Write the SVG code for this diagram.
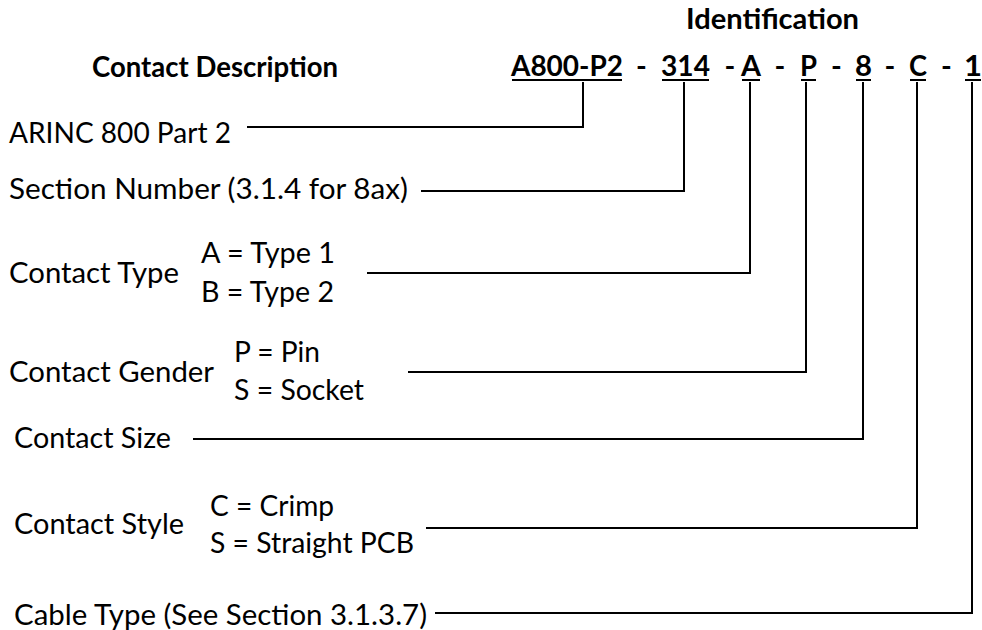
<svg xmlns="http://www.w3.org/2000/svg" width="982" height="630" viewBox="0 0 982 630">
<style>
.t{font-family:Lato,'Liberation Sans',sans-serif;font-size:29px;fill:#000}
.b{font-weight:bold}
.ln{fill:none;stroke:#000;stroke-width:2}
</style>
<rect width="982" height="630" fill="#fff"/>
<g id="hdr-ident"><text class="t b" x="686" y="29" textLength="173" lengthAdjust="spacingAndGlyphs">Identification</text></g>
<g id="hdr-desc"><text class="t b" x="92" y="77" textLength="246" lengthAdjust="spacingAndGlyphs">Contact Description</text></g>
<g id="code">
<g id="c-a800"><text class="t b" x="511" y="76" textLength="112" lengthAdjust="spacingAndGlyphs">A800-P2</text><line class="ln" x1="512" y1="80" x2="622" y2="80"/></g>
<text class="t b" x="641.5" y="76" text-anchor="middle">-</text>
<g id="c-314"><text class="t b" x="661" y="76" textLength="49" lengthAdjust="spacingAndGlyphs">314</text><line class="ln" x1="662" y1="80" x2="709" y2="80"/></g>
<text class="t b" x="730" y="76" text-anchor="middle">-</text>
<g id="c-a"><text class="t b" x="741" y="76" textLength="20" lengthAdjust="spacingAndGlyphs">A</text><line class="ln" x1="742" y1="80" x2="760" y2="80"/></g>
<text class="t b" x="780" y="76" text-anchor="middle">-</text>
<g id="c-p"><text class="t b" x="800" y="76" textLength="17" lengthAdjust="spacingAndGlyphs">P</text><line class="ln" x1="801" y1="80" x2="816" y2="80"/></g>
<text class="t b" x="836.5" y="76" text-anchor="middle">-</text>
<g id="c-8"><text class="t b" x="855" y="76" textLength="17" lengthAdjust="spacingAndGlyphs">8</text><line class="ln" x1="856" y1="80" x2="871" y2="80"/></g>
<text class="t b" x="890" y="76" text-anchor="middle">-</text>
<g id="c-c"><text class="t b" x="909" y="76" textLength="18" lengthAdjust="spacingAndGlyphs">C</text><line class="ln" x1="910" y1="80" x2="926" y2="80"/></g>
<text class="t b" x="946.5" y="76" text-anchor="middle">-</text>
<g id="c-1"><text class="t b" x="964" y="76" textLength="18" lengthAdjust="spacingAndGlyphs">1</text><line class="ln" x1="965" y1="80" x2="981" y2="80"/></g>
</g>
<g id="n-arinc"><text class="t" x="9" y="143" textLength="222" lengthAdjust="spacingAndGlyphs">ARINC 800 Part 2</text></g>
<g id="n-section"><text class="t" x="9" y="199" textLength="399" lengthAdjust="spacingAndGlyphs">Section Number (3.1.4 for 8ax)</text></g>
<g id="n-type">
<text class="t" x="9" y="283" textLength="170" lengthAdjust="spacingAndGlyphs">Contact Type</text>
<text class="t" x="201" y="263" textLength="134" lengthAdjust="spacingAndGlyphs">A = Type 1</text>
<text class="t" x="201" y="302" textLength="133" lengthAdjust="spacingAndGlyphs">B = Type 2</text>
</g>
<g id="n-gender">
<text class="t" x="9" y="382" textLength="205" lengthAdjust="spacingAndGlyphs">Contact Gender</text>
<text class="t" x="234" y="362" textLength="86" lengthAdjust="spacingAndGlyphs">P = Pin</text>
<text class="t" x="234" y="400" textLength="130" lengthAdjust="spacingAndGlyphs">S = Socket</text>
</g>
<g id="n-size"><text class="t" x="14" y="448" textLength="157" lengthAdjust="spacingAndGlyphs">Contact Size</text></g>
<g id="n-style">
<text class="t" x="14" y="534" textLength="170" lengthAdjust="spacingAndGlyphs">Contact Style</text>
<text class="t" x="210" y="516" textLength="124" lengthAdjust="spacingAndGlyphs">C = Crimp</text>
<text class="t" x="210" y="553" textLength="204" lengthAdjust="spacingAndGlyphs">S = Straight PCB</text>
</g>
<g id="n-cable"><text class="t" x="14" y="625" textLength="413" lengthAdjust="spacingAndGlyphs">Cable Type (See Section 3.1.3.7)</text></g>
<g id="connectors">
<polyline class="ln" points="247,127 583,127 583,82"/>
<polyline class="ln" points="421,191 684,191 684,82"/>
<polyline class="ln" points="367,273 750,273 750,82"/>
<polyline class="ln" points="408,372 806,372 806,82"/>
<polyline class="ln" points="193,439 863,439 863,82"/>
<polyline class="ln" points="426,528 917,528 917,82"/>
<polyline class="ln" points="435,613 972,613 972,82"/>
</g>
</svg>
